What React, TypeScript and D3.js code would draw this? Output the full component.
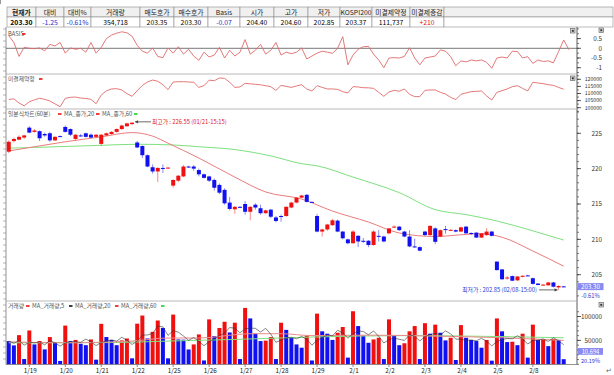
import React from 'react';
import * as d3 from 'd3';

// header table
const headLabels = ['현재가', '대비', '대비%', '거래량', '매도호가', '매수호가', 'Basis', '시가', '고가', '저가', 'KOSPI200', '미결제약정', '미결제증감'];
const headValues = ['203.30', '-1.25', '-0.61%', '354,718', '203.35', '203.30', '-0.07', '204.40', '204.60', '202.85', '203.37', '111,737', '+210'];
const headColors = ['#000', '#2030d0', '#2030d0', '#000', '#000', '#000', '#2030d0', '#000', '#000', '#000', '#000', '#000', '#e01010'];
const colEdges = [7, 36, 64, 91, 140, 174, 208, 240, 274, 308, 340, 372, 410, 444, 613];

// x axis: first bar index of each day
const dayLabels = ['1/19', '1/20', '1/21', '1/22', '1/25', '1/26', '1/27', '1/28', '1/29', '2/1', '2/2', '2/3', '2/4', '2/5', '2/8'];
const dayStart = [4, 11, 18, 25, 32, 39, 46, 53, 60, 67, 74, 81, 88, 95, 102];

// 60 minute candles
const opens = [222.4, 223.9, 224.1, 224.4, 225.8, 225.2, 225.3, 224.9, 225.0, 224.0, 224.6, 225.9, 225.6, 224.2, 224.7, 225.0, 224.8, 224.5, 223.5, 224.7, 224.9, 225.2, 225.6, 226.0, 226.3,
  223.7, 223.2, 221.9, 220.2, 219.6, 220.1, 220.1, 217.6, 218.3, 218.9, 220.3, 220.3, 219.8, 219.2, 218.9, 218.4, 217.7, 217.0, 215.2, 214.25, 214.6,
  215.0, 213.9, 214.9, 214.4, 213.7, 214.2, 213.1, 213.3, 213.3, 214.5, 215.2, 215.9, 216.3, 215.3, 213.3, 211.1, 211.4, 212.0, 212.65, 211.1, 210.0,
  209.45, 210.5, 209.8, 209.8, 209.2, 210.5, 210.4, 210.85, 211.7, 211.8, 211.1, 210.4, 209.0, 208.9, 211.1, 210.6, 211.55, 210.4, 211.45, 211.3, 211.3,
  211.1, 211.8, 210.9, 210.95, 210.25, 210.6, 211.1, 206.85, 205.75, 204.5, 204.8, 204.2, 204.7, 204.9, 204.5, 203.75, 203.55, 203.5, 203.9, 203.2, 203.35];
const highs = [224.0, 224.4, 224.7, 224.8, 226.0, 225.6, 225.4, 225.1, 225.2, 224.6, 224.7, 226.1, 225.7, 224.9, 224.9, 225.1, 225.0, 224.9, 224.9, 225.1, 225.3, 225.7, 226.2, 226.5, 226.55,
  223.9, 223.3, 222.0, 220.6, 220.2, 220.6, 220.2, 218.5, 219.1, 220.5, 220.4, 220.5, 220.0, 219.3, 219.0, 218.6, 217.9, 217.2, 216.0, 214.7, 214.7,
  215.4, 214.7, 215.1, 214.9, 214.2, 214.3, 213.3, 213.5, 214.7, 215.3, 216.0, 216.3, 216.4, 215.35, 213.6, 211.5, 212.2, 212.9, 212.8, 211.2, 210.1,
  211.3, 210.6, 210.2, 209.9, 211.3, 211.3, 210.5, 211.6, 212.0, 211.9, 211.2, 211.3, 210.1, 209.0, 211.2, 212.0, 211.7, 211.4, 211.9, 211.4, 211.4,
  211.8, 211.9, 211.0, 211.0, 210.9, 211.6, 211.2, 206.9, 205.8, 204.8, 204.9, 204.8, 204.9, 205.0, 204.6, 203.8, 203.7, 204.0, 204.0, 203.5, 203.4];
const lows = [222.2, 223.7, 224.0, 224.2, 225.0, 225.1, 223.9, 224.5, 223.8, 223.9, 224.5, 225.1, 224.6, 223.9, 224.5, 224.4, 224.3, 224.3, 223.2, 224.6, 224.8, 225.1, 225.5, 225.9, 226.2,
  222.9, 221.5, 220.2, 219.3, 218.1, 219.4, 220.0, 217.3, 218.1, 218.8, 220.1, 219.7, 218.9, 218.6, 218.1, 216.9, 216.4, 214.9, 214.1, 213.6, 214.5,
  213.5, 212.7, 214.2, 213.5, 213.6, 213.0, 212.4, 212.5, 213.2, 214.4, 215.1, 215.8, 215.2, 215.2, 211.0, 210.4, 211.2, 211.9, 211.0, 210.0, 209.3,
  209.4, 208.9, 209.5, 208.9, 209.1, 209.7, 209.6, 210.7, 211.6, 211.2, 210.3, 208.9, 208.8, 208.3, 210.5, 210.5, 209.3, 210.3, 210.8, 211.2, 211.0,
  211.0, 210.8, 210.6, 210.2, 210.2, 210.5, 210.4, 205.6, 204.3, 204.3, 204.1, 204.1, 204.6, 204.85, 203.6, 203.5, 203.5, 203.45, 203.2, 202.85, 203.25];
const closes = [223.8, 224.2, 224.5, 224.7, 225.1, 225.4, 224.3, 224.7, 224.0, 224.5, 224.55, 225.2, 224.8, 224.8, 224.65, 224.5, 224.4, 224.8, 224.8, 225.0, 225.2, 225.6, 226.1, 226.4, 226.5,
  223.0, 221.9, 220.3, 219.6, 220.1, 220.05, 220.15, 218.4, 219.0, 220.3, 220.2, 220.0, 219.2, 218.7, 218.3, 217.3, 216.6, 215.1, 214.3, 214.6, 214.55,
  213.9, 214.6, 214.5, 213.7, 214.1, 213.2, 212.6, 213.2, 214.6, 215.2, 215.9, 216.2, 215.3, 215.25, 211.1, 211.4, 212.1, 212.7, 211.1, 210.15, 209.45,
  211.1, 209.7, 209.65, 209.2, 211.1, 210.45, 209.7, 211.55, 211.8, 211.3, 210.4, 209.0, 208.9, 208.4, 210.6, 211.9, 209.65, 211.3, 211.4, 211.35, 211.1,
  211.7, 210.85, 210.8, 210.25, 210.85, 211.1, 210.5, 205.65, 204.35, 204.6, 204.15, 204.75, 204.85, 204.88, 203.7, 203.55, 203.6, 203.9, 203.3, 203.4, 203.3];

// moving averages of close (bar index, value)
const ma20Idx = [0, 5, 11, 18, 24, 28, 31, 37, 44, 50, 57, 63, 70, 76, 83, 89, 92, 96, 102, 108];
const ma20Val = [222.5, 223.1, 223.8, 224.5, 225.1, 224.6, 223.6, 221.5, 218.8, 216.7, 215.7, 214.0, 212.45, 210.9, 210.4, 210.7, 210.8, 210.3, 208.35, 206.2];
const ma60Idx = [0, 5, 18, 25, 32, 37, 44, 51, 57, 60, 67, 76, 83, 89, 95, 102, 108];
const ma60Val = [222.9, 223.0, 223.3, 223.45, 223.35, 223.1, 222.7, 221.8, 220.7, 220.4, 218.8, 216.6, 214.2, 213.5, 212.6, 211.2, 209.9];

// volume
const volumes = [48600, 39600, 61000, 11000, 70800, 41600, 48600, 31200, 57000, 46500, 7000, 81000, 48600, 51000, 43000, 40000, 52000, 9700, 84700, 57000,
  51000, 40000, 50000, 54000, 12500, 85000, 102000, 54000, 68000, 91600, 76000, 12500, 104000, 52000, 51500, 31000, 41600, 62500, 8000, 94000,
  59000, 76000, 89000, 66600, 87000, 11000, 118000, 96000, 64000, 48600, 49500, 57000, 11000, 87000, 72000, 55500, 41600, 34700, 60000, 8000,
  106000, 69000, 64000, 51000, 66000, 78000, 14000, 111000, 80000, 60000, 45000, 52000, 55500, 11000, 94000, 61000, 40000, 44000, 69000, 80000,
  11000, 86000, 64000, 83000, 66000, 50000, 55500, 9000, 82000, 55500, 51000, 48600, 34700, 51000, 7600, 96000, 69000, 46500, 47200, 40000,
  64000, 14000, 83000, 51000, 53000, 38000, 53000, 51000, 10694];
const vma20Idx = [0, 11, 24, 31, 37, 47, 53, 59, 70, 83, 96, 108];
const vma20Val = [47000, 45000, 48600, 55000, 55000, 64000, 64000, 60000, 61000, 59000, 55500, 50000];
const vma60Idx = [0, 20, 31, 44, 59, 77, 96, 108];
const vma60Val = [45000, 45500, 48600, 52000, 57000, 60000, 58000, 55500];

// basis (one more point than bars)
const basis = [0.65, 0.3, -0.42, 0.05, 0.0, -0.02, 0.02, -0.13, 0.2, 0.12, 0.3, -0.25, 0.02, -0.05, 0.0, -0.2, 0.3, -0.25, 0.05, 0.5,
  0.68, 0.78, 0.85, 0.8, 0.62, 0.15, -0.15, -0.25, 0.02, -0.42, -0.48, 0.02, -0.25, 0.08, -0.3, -0.05, -0.4, -0.62, -0.2, -0.45,
  -0.35, 0.05, -0.5, -0.1, -0.4, -0.2, 0.45, -0.3, -0.1, 0.2, -0.3, -0.1, 0.3, -0.35, -0.2, -0.28, -0.2, 0.02, -0.55, -0.4,
  -0.25, -0.15, -0.2, -0.26, 0.0, 0.6, -0.85, -0.35, -0.05, 0.08, 0.1, -0.3, -0.6, -1.0, -0.5, -0.48, -0.5, -0.42, 0.03, -0.5,
  -0.85, -0.5, -0.45, -0.4, -0.08, -0.15, -0.43, -0.9, -0.65, -0.7, -0.6, -0.65, -0.6, -0.72, -1.03, -0.5, -0.45, -0.5, -0.15, -0.17,
  -0.5, -0.43, -0.78, -0.6, -0.68, -0.65, -0.75, -0.17, 0.43, -0.07];

// open interest
const openInt = [105800, 106200, 103300, 101300, 104200, 105500, 106600, 105900, 104700, 102700, 100700, 106600, 107300, 107500, 106800, 106500, 105900, 102800, 108900, 111900,
  113200, 113400, 112500, 109900, 108000, 112000, 115700, 118100, 119500, 118600, 116200, 112700, 118100, 118300, 118300, 118100, 117900, 114300, 115500, 119400,
  119000, 120900, 120700, 117900, 114300, 114600, 117200, 116800, 116500, 116100, 115500, 114800, 112200, 115700, 115000, 114300, 115300, 116200, 113100, 111800,
  115500, 114300, 113200, 113200, 112900, 111300, 110400, 114800, 114600, 114100, 114000, 113600, 110800, 108000, 111100, 112200, 111600, 113200, 109400, 107800,
  107800, 112200, 112500, 112500, 110800, 109600, 107300, 105700, 109400, 110400, 111300, 111500, 111800, 108300, 105400, 110800, 112000, 113200, 114800, 115500,
  113600, 111800, 117900, 117400, 116900, 116200, 115700, 114300, 113000];

const FONT = "'Noto Sans CJK KR', 'Noto Sans', sans-serif";
const RED = '#f01010';
const BLUE = '#1010f0';
const L = 6, R = 577;

function RightAxis({ scale, major, minor, fmt, size = 6.3 }: any) {
  return (
    <g>
      {minor.map((v: number, i: number) => (
        <line key={'m' + i} x1={R} x2={R + 2} y1={scale(v)} y2={scale(v)} stroke="#444" strokeWidth={0.7} />
      ))}
      {major.map((v: number, i: number) => (
        <g key={'M' + i}>
          <line x1={R} x2={R + 4} y1={scale(v)} y2={scale(v)} stroke="#333" strokeWidth={0.8} />
          <text x={602} y={scale(v) + size * 0.35} fontSize={size} textAnchor="end" fill="#333">{fmt(v)}</text>
        </g>
      ))}
    </g>
  );
}

function Icon({ x, y }: any) {
  return (
    <g>
      <rect x={x} y={y} width={4.5} height={4.5} fill="#ddd" stroke="#555" strokeWidth={0.6} />
      <rect x={x + 1.3} y={y + 1.3} width={2} height={2} fill="#333" />
    </g>
  );
}

export default function App() {
  const x = d3.scaleLinear().domain([0, 108]).range([8.75, 563.7]);
  const yP = d3.scaleLinear().domain([205, 225]).range([274.7, 133.3]);
  const yB = d3.scaleLinear().domain([-1, 0.5]).range([67.7, 38.6]);
  const yOI = d3.scaleLinear().domain([100000, 120000]).range([107.7, 79.3]);
  const yV = d3.scaleLinear().domain([0, 100000]).range([364.3, 316.5]);
  const bw = 4;

  const lineIdx = (ys: any) => d3.line<number>().x((_, i) => x(i)).y((v) => ys(v));
  const sparse = (ys: any, idx: number[]) =>
    d3.line<number>().x((_, i) => x(idx[i])).y((v) => ys(v)).curve(d3.curveMonotoneX);

  const vma5 = volumes.map((_, i) => d3.mean(volumes.slice(Math.max(0, i - 4), i + 1)) as number);

  const leftTicks = d3.range(29, 364, 6);

  return (
    <svg width={614} height={375} style={{ position: 'absolute', left: 0, top: 0, background: '#fff' }} fontFamily={FONT}>
      <defs>
        <clipPath id="pB"><rect x={L} y={27} width={R - L} height={47} /></clipPath>
        <clipPath id="pO"><rect x={L} y={74} width={R - L} height={35} /></clipPath>
        <clipPath id="pM"><rect x={L} y={109} width={R - L} height={192} /></clipPath>
        <clipPath id="pV"><rect x={L} y={301} width={R - L} height={63.5} /></clipPath>
      </defs>

      {/* header table */}
      <line x1={0} x2={0} y1={0} y2={4} stroke="#333" />
      {headLabels.map((h, i) => {
        const x0 = colEdges[i], x1 = colEdges[i + 1];
        return (
          <g key={i}>
            <rect x={x0} y={7} width={x1 - x0} height={10} fill="#f0f0f0" stroke="#8c8c8c" strokeWidth={0.6} />
            <rect x={x0} y={17} width={x1 - x0} height={10} fill="#fff" stroke="#8c8c8c" strokeWidth={0.6} />
            <text x={(x0 + x1) / 2} y={14.6} textAnchor="middle" fontSize={6.8} fontWeight={i === 0 ? 700 : 400} fill="#222">{h}</text>
            <text x={(x0 + x1) / 2} y={24.6} textAnchor="middle" fontSize={6.8} fontWeight={i === 0 ? 700 : 400} fill={headColors[i]}>{headValues[i]}</text>
          </g>
        );
      })}
      <rect x={444} y={7} width={169} height={10} fill="#f0f0f0" stroke="#8c8c8c" strokeWidth={0.6} />
      <rect x={444} y={17} width={169} height={10} fill="#fff" stroke="#8c8c8c" strokeWidth={0.6} />

      {/* frame */}
      <line x1={L} x2={L} y1={27} y2={364.5} stroke="#777" strokeWidth={0.8} />
      {leftTicks.map((t) => <line key={t} x1={3} x2={L} y1={t} y2={t} stroke="#888" strokeWidth={0.6} />)}
      <line x1={R} x2={R} y1={27} y2={364.5} stroke="#333" strokeWidth={0.8} />
      {[74, 109, 301].map((t) => <line key={t} x1={L} x2={R} y1={t} y2={t} stroke="#a8a8a8" strokeWidth={0.8} />)}
      <line x1={L} x2={R} y1={364.5} y2={364.5} stroke="#777" strokeWidth={0.8} />

      {/* basis panel */}
      <line x1={L} x2={R} y1={yB(0)} y2={yB(0)} stroke="#555" strokeWidth={0.8} />
      <g clipPath="url(#pB)">
        <path d={lineIdx(yB)(basis) as string} fill="none" stroke="#e06a6a" strokeWidth={0.9} />
      </g>
      <text x={8} y={36} fontSize={5.8} fill="#555">BASIS</text>
      <rect x={22} y={33.2} width={3.5} height={1.6} fill={RED} />
      <RightAxis scale={yB} major={[-1, -0.5, 0, 0.5]} minor={d3.range(-1.25, 1.01, 0.25)} fmt={(v: number) => String(v)} />
      <Icon x={570.5} y={28.5} />
      <Icon x={599} y={28} />

      {/* open interest panel */}
      <g clipPath="url(#pO)">
        <path d={lineIdx(yOI)(openInt) as string} fill="none" stroke="#e06a6a" strokeWidth={0.9} />
      </g>
      <text x={8} y={81} fontSize={5.8} fill="#555">미결제약정</text>
      <rect x={39} y={78.2} width={3.5} height={1.6} fill={RED} />
      <RightAxis scale={yOI} size={5.2} major={d3.range(100000, 120001, 5000)} minor={d3.range(97500, 122501, 2500)} fmt={(v: number) => String(v)} />
      <Icon x={570.5} y={76} />

      {/* price panel */}
      <g clipPath="url(#pM)">
        <path d={sparse(yP, ma60Idx)(ma60Val) as string} fill="none" stroke="#7ee07e" strokeWidth={1} />
        <path d={sparse(yP, ma20Idx)(ma20Val) as string} fill="none" stroke="#ec7c7c" strokeWidth={1} />
        {opens.map((o, i) => {
          const c = closes[i];
          const up = c >= o;
          const col = up ? RED : BLUE;
          const top = yP(Math.max(o, c));
          const h = Math.max(1, Math.abs(yP(o) - yP(c)));
          return (
            <g key={i}>
              <line x1={x(i)} x2={x(i)} y1={yP(highs[i])} y2={yP(lows[i])} stroke={up ? '#f07070' : '#6a6af0'} strokeWidth={0.8} />
              <rect x={x(i) - bw / 2} y={top} width={bw} height={h} fill={col} />
            </g>
          );
        })}
      </g>
      <text x={8} y={116} fontSize={5.8} fill="#555">일분식차트(60분)</text>
      <rect x={58} y={113.2} width={3.5} height={1.6} fill={RED} />
      <text x={64} y={116} fontSize={5.8} fill="#555">MA_종가,20</text>
      <rect x={96} y={113.2} width={3.5} height={1.6} fill={RED} />
      <text x={102} y={116} fontSize={5.8} fill="#555">MA_종가,60</text>
      <rect x={134} y={113.2} width={3.5} height={1.6} fill="#22cc22" />
      {/* high / low notes */}
      <line x1={x(24) + 3} x2={151} y1={yP(226.55) - 0.5} y2={yP(226.55) - 0.5} stroke="#444" strokeWidth={0.8} />
      <path d={`M${x(24) + 3},${yP(226.55) - 0.5} l3,-1.6 l0,3.2 z`} fill="#444" />
      <text x={152} y={yP(226.55) + 1.5} fontSize={5.8} fill="#e02020">최고가 : 226.55 (01/21-15:15)</text>
      <text x={537} y={yP(202.85) + 1.7} fontSize={5.8} fill="#2a3ad0" textAnchor="end">최저가 : 202.85 (02/08-15:00)</text>
      <line x1={539} x2={x(107) - 1} y1={yP(202.85)} y2={yP(202.85)} stroke="#444" strokeWidth={0.8} />
      <path d={`M${x(107) - 1},${yP(202.85)} l-3,-1.6 l0,3.2 z`} fill="#444" />
      <RightAxis scale={yP} major={[205, 210, 215, 220, 225]} minor={d3.range(202, 229, 1)} fmt={(v: number) => String(v)} />
      <rect x={577.5} y={yP(203.3) - 3.6} width={26} height={7} fill="#8a8af2" />
      <text x={590.5} y={yP(203.3) + 2.1} fontSize={6.2} textAnchor="middle" fill="#fff">203.30</text>
      <text x={590.5} y={297.5} fontSize={5.8} textAnchor="middle" fill="#2a3ad0">-0.61%</text>

      {/* volume panel */}
      <g clipPath="url(#pV)">
        {volumes.map((v, i) => {
          const up = i > 0 && v >= volumes[i - 1];
          return <rect key={i} x={x(i) - bw / 2} y={yV(v)} width={bw} height={yV(0) - yV(v)} fill={up ? RED : BLUE} />;
        })}
        <path d={sparse(yV, vma60Idx)(vma60Val) as string} fill="none" stroke="#7ee07e" strokeWidth={1} />
        <path d={sparse(yV, vma20Idx)(vma20Val) as string} fill="none" stroke="#ec8a8a" strokeWidth={1} />
        <path d={lineIdx(yV)(vma5) as string} fill="none" stroke="#333" strokeWidth={0.6} />
      </g>
      <text x={8} y={308} fontSize={5.8} fill="#555">거래량</text>
      <rect x={26} y={305.2} width={3.5} height={1.6} fill={RED} />
      <text x={32} y={308} fontSize={5.8} fill="#555">MA_거래량,5</text>
      <rect x={69} y={305.2} width={3.5} height={1.6} fill="#111" />
      <text x={75} y={308} fontSize={5.8} fill="#555">MA_거래량,20</text>
      <rect x={115} y={305.2} width={3.5} height={1.6} fill={RED} />
      <text x={121} y={308} fontSize={5.8} fill="#555">MA_거래량,60</text>
      <rect x={161} y={305.2} width={3.5} height={1.6} fill="#22cc22" />
      <RightAxis scale={yV} major={[50000, 100000]} minor={d3.range(0, 110001, 10000)} fmt={(v: number) => String(v)} />
      <Icon x={599} y={302.5} />
      <rect x={578} y={348} width={25} height={6.8} fill="#8a8af2" />
      <text x={590.5} y={353.5} fontSize={5.8} textAnchor="middle" fill="#fff">10,694</text>
      <text x={590.5} y={363.2} fontSize={5.6} textAnchor="middle" fill="#2a3ad0">20.19%</text>

      {/* dates */}
      {dayStart.map((d, i) => (
        <g key={i}>
          <line x1={x(d)} x2={x(d)} y1={364.5} y2={367} stroke="#555" strokeWidth={0.7} />
          <text x={x(d) + 1} y={373} fontSize={6.3} textAnchor="middle" fill="#222">{dayLabels[i]}</text>
        </g>
      ))}
      <text x={606} y={373} fontSize={7} fill="#666">↵</text>
    </svg>
  );
}
